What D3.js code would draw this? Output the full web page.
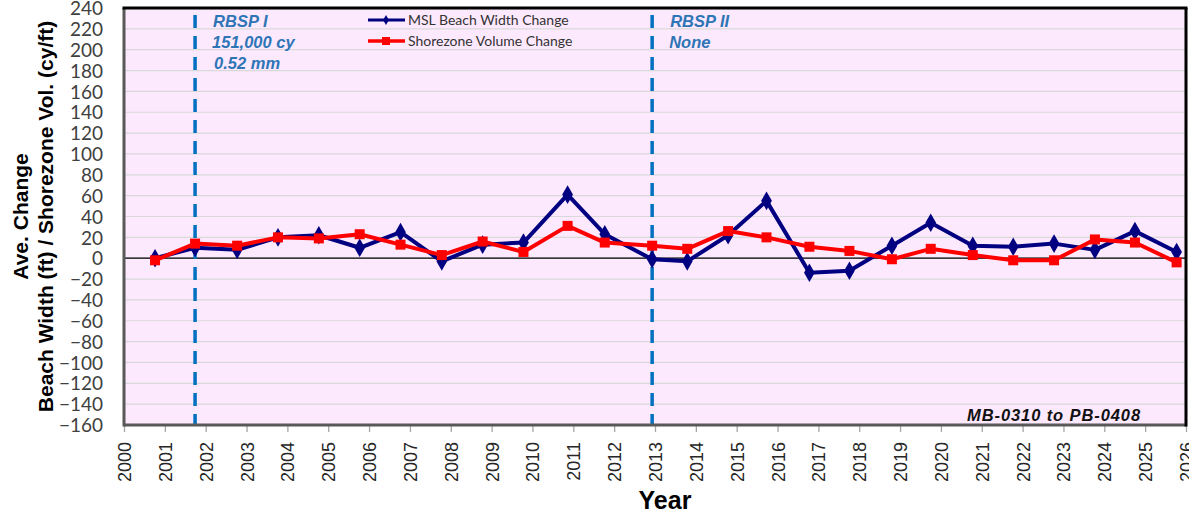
<!DOCTYPE html>
<html>
<head>
<meta charset="utf-8">
<script src="https://cdn.jsdelivr.net/npm/d3@7"></script>
<style>
  html, body { margin: 0; padding: 0; background: #fff; }
  svg { display: block; }
</style>
</head>
<body>
<svg id="chart" width="1189" height="514"></svg>
<script>
// Survey dates (decimal years) and average change per survey
const surveyDates = [2000.76, 2001.74, 2002.77, 2003.77, 2004.77, 2005.77, 2006.77, 2007.78, 2008.78, 2009.78,
  2010.86, 2011.77, 2012.93, 2013.79, 2014.79, 2015.73, 2016.78, 2017.76, 2018.80, 2019.75,
  2020.78, 2021.77, 2022.77, 2023.77, 2024.75, 2025.77];
const beachWidthChange = [0, 10, 8, 20, 22, 10, 25, -3, 13, 15, 61, 23, -1, -3, 22, 55, -14, -12, 12, 34, 12, 11, 14, 8, 26, 6];
const shorezoneVolumeChange = [-2, 14, 12, 20, 19, 23, 13, 3, 16, 6, 31, 15, 12, 9, 26, 20, 11, 7, -1, 9, 3, -2, -2, 18, 15, -4];

const yearTicks = d3.range(2000, 2027);
const valueTicks = d3.range(-160, 241, 20);

// Nourishment events marked with dashed lines
const nourishments = [
  { date: 2001.74, lines: ["RBSP I", "151,000 cy", "0.52 mm"] },
  { date: 2012.93, lines: ["RBSP II", "None"] }
];
const seriesNames = ["MSL Beach Width Change", "Shorezone Volume Change"];
const reachLabel = "MB-0310 to PB-0408";

const svg = d3.select("#chart");
const plot = { left: 124, right: 1186, top: 8, bottom: 425 };

const x = d3.scaleLinear().domain([2000, 2026]).range([plot.left, plot.right]);
const y = d3.scaleLinear().domain([-160, 240]).range([plot.bottom, plot.top]);

// plot background
svg.append("rect")
  .attr("x", plot.left).attr("y", plot.top)
  .attr("width", plot.right - plot.left).attr("height", plot.bottom - plot.top)
  .attr("fill", "#fde9fd");

// horizontal gridlines
svg.append("g").selectAll("line").data(valueTicks.filter(v => v > -160 && v < 240)).join("line")
  .attr("x1", plot.left).attr("x2", plot.right)
  .attr("y1", d => y(d)).attr("y2", d => y(d))
  .attr("stroke", "#d9d9d9").attr("stroke-width", 1.2);

// zero line
svg.append("line")
  .attr("x1", plot.left).attr("x2", plot.right)
  .attr("y1", y(0)).attr("y2", y(0))
  .attr("stroke", "#000").attr("stroke-width", 1.3);

// y axis labels
const yAxis = d3.axisLeft(y).tickValues(valueTicks).tickSize(0).tickPadding(0);
const gy = svg.append("g").attr("transform", `translate(${plot.left - 21},0)`).call(yAxis);
gy.select(".domain").remove();
gy.selectAll("text")
  .attr("font-family", "Lato, 'Open Sans', sans-serif")
  .attr("font-size", 19)
  .attr("fill", "#404040")
  .attr("dy", "0.35em");

// x axis ticks and labels
const xAxis = d3.axisBottom(x).tickValues(yearTicks).tickFormat(d3.format("d")).tickSize(7).tickPadding(6);
const gx = svg.append("g").attr("transform", `translate(0,${plot.bottom})`).call(xAxis);
gx.select(".domain").remove();
gx.selectAll(".tick line").attr("stroke", "#a6a6a6").attr("stroke-width", 1.3);
gx.selectAll("text")
  .attr("font-family", "'Liberation Sans', Arial, sans-serif")
  .attr("font-size", 18)
  .attr("fill", "#262626")
  .attr("transform", "rotate(-90)")
  .attr("text-anchor", "end")
  .attr("x", -17)
  .attr("y", 0)
  .attr("dy", "0.36em");

// nourishment dashed lines
svg.append("g").selectAll("line").data(nourishments).join("line")
  .attr("x1", d => x(d.date)).attr("x2", d => x(d.date))
  .attr("y1", plot.top + 7).attr("y2", plot.bottom)
  .attr("stroke", "#0070c0").attr("stroke-width", 3.5)
  .attr("stroke-dasharray", "13,8");

const notes = svg.append("g");
nourishments.forEach(n => {
  n.lines.forEach((t, i) => {
    notes.append("text")
      .attr("x", x(n.date) + 17 + (i === 0 ? 1 : 0) + (i === 2 ? 2 : 0))
      .attr("y", 27 + i * 21)
      .attr("font-family", "'Liberation Sans', Arial, sans-serif")
      .attr("font-size", 16.5)
      .attr("font-weight", "bold")
      .attr("font-style", "italic")
      .attr("fill", "#2e75b6")
      .text(t);
  });
});

// series lines
const line = d3.line().x(d => x(d[0])).y(d => y(d[1]));
const blueData = surveyDates.map((d, i) => [d, beachWidthChange[i]]);
const redData = surveyDates.map((d, i) => [d, shorezoneVolumeChange[i]]);

svg.append("path").datum(blueData)
  .attr("d", line).attr("fill", "none")
  .attr("stroke", "#000080").attr("stroke-width", 4).attr("stroke-linejoin", "round");
svg.append("g").selectAll("path").data(blueData).join("path")
  .attr("d", d3.symbol(d3.symbolDiamond, 100))
  .attr("transform", d => `translate(${x(d[0])},${y(d[1])})`)
  .attr("fill", "#000080");

svg.append("path").datum(redData)
  .attr("d", line).attr("fill", "none")
  .attr("stroke", "#ff0000").attr("stroke-width", 4).attr("stroke-linejoin", "round");
svg.append("g").selectAll("rect").data(redData).join("rect")
  .attr("x", d => x(d[0]) - 5).attr("y", d => y(d[1]) - 5)
  .attr("width", 10).attr("height", 10)
  .attr("fill", "#ff0000");

// legend
const legend = svg.append("g");
[0, 1].forEach(i => {
  const ly = 20 + i * 21;
  const col = i === 0 ? "#000080" : "#ff0000";
  legend.append("line")
    .attr("x1", 368).attr("x2", 405).attr("y1", ly).attr("y2", ly)
    .attr("stroke", col).attr("stroke-width", i === 0 ? 3 : 3.5);
  if (i === 0) {
    legend.append("path").attr("d", d3.symbol(d3.symbolDiamond, 30))
      .attr("transform", `translate(386,${ly})`).attr("fill", col);
  } else {
    legend.append("rect").attr("x", 382).attr("y", ly - 4).attr("width", 8).attr("height", 8).attr("fill", col);
  }
  legend.append("text")
    .attr("x", 408).attr("y", ly).attr("dy", "0.35em")
    .attr("font-family", "Lato, 'Open Sans', sans-serif")
    .attr("font-size", 14)
    .attr("fill", "#333")
    .text(seriesNames[i]);
});

// reach label
svg.append("text")
  .attr("x", 1141).attr("y", 421)
  .attr("text-anchor", "end")
  .attr("font-family", "'Liberation Sans', Arial, sans-serif")
  .attr("font-size", 16.5)
  .attr("font-weight", "bold")
  .attr("font-style", "italic")
  .attr("letter-spacing", 0.9)
  .attr("fill", "#111")
  .text(reachLabel);

// plot frame
svg.append("line").attr("x1", plot.left).attr("x2", plot.left).attr("y1", plot.top).attr("y2", plot.bottom + 1.5)
  .attr("stroke", "#595959").attr("stroke-width", 3);
svg.append("line").attr("x1", plot.left).attr("x2", plot.right).attr("y1", plot.bottom).attr("y2", plot.bottom)
  .attr("stroke", "#595959").attr("stroke-width", 3);
svg.append("line").attr("x1", plot.left - 1.5).attr("x2", plot.right + 1.5).attr("y1", plot.top).attr("y2", plot.top)
  .attr("stroke", "#000").attr("stroke-width", 3);
svg.append("line").attr("x1", plot.right).attr("x2", plot.right).attr("y1", plot.top).attr("y2", plot.bottom + 1.5)
  .attr("stroke", "#000").attr("stroke-width", 3);

// axis titles
const titleY = svg.append("text")
  .attr("transform", `translate(0,${(plot.top + plot.bottom) / 2}) rotate(-90)`)
  .attr("text-anchor", "middle")
  .attr("font-family", "'Liberation Sans', Arial, sans-serif")
  .attr("font-size", 21)
  .attr("font-weight", "bold")
  .attr("fill", "#000");
titleY.append("tspan").attr("x", 0).attr("y", 28).text("Ave. Change");
titleY.append("tspan").attr("x", 0).attr("y", 53).text("Beach Width (ft) / Shorezone Vol. (cy/ft)");

svg.append("text")
  .attr("x", 665).attr("y", 509)
  .attr("text-anchor", "middle")
  .attr("font-family", "'Liberation Sans', Arial, sans-serif")
  .attr("font-size", 25)
  .attr("font-weight", "bold")
  .attr("fill", "#000")
  .text("Year");
</script>
</body>
</html>
